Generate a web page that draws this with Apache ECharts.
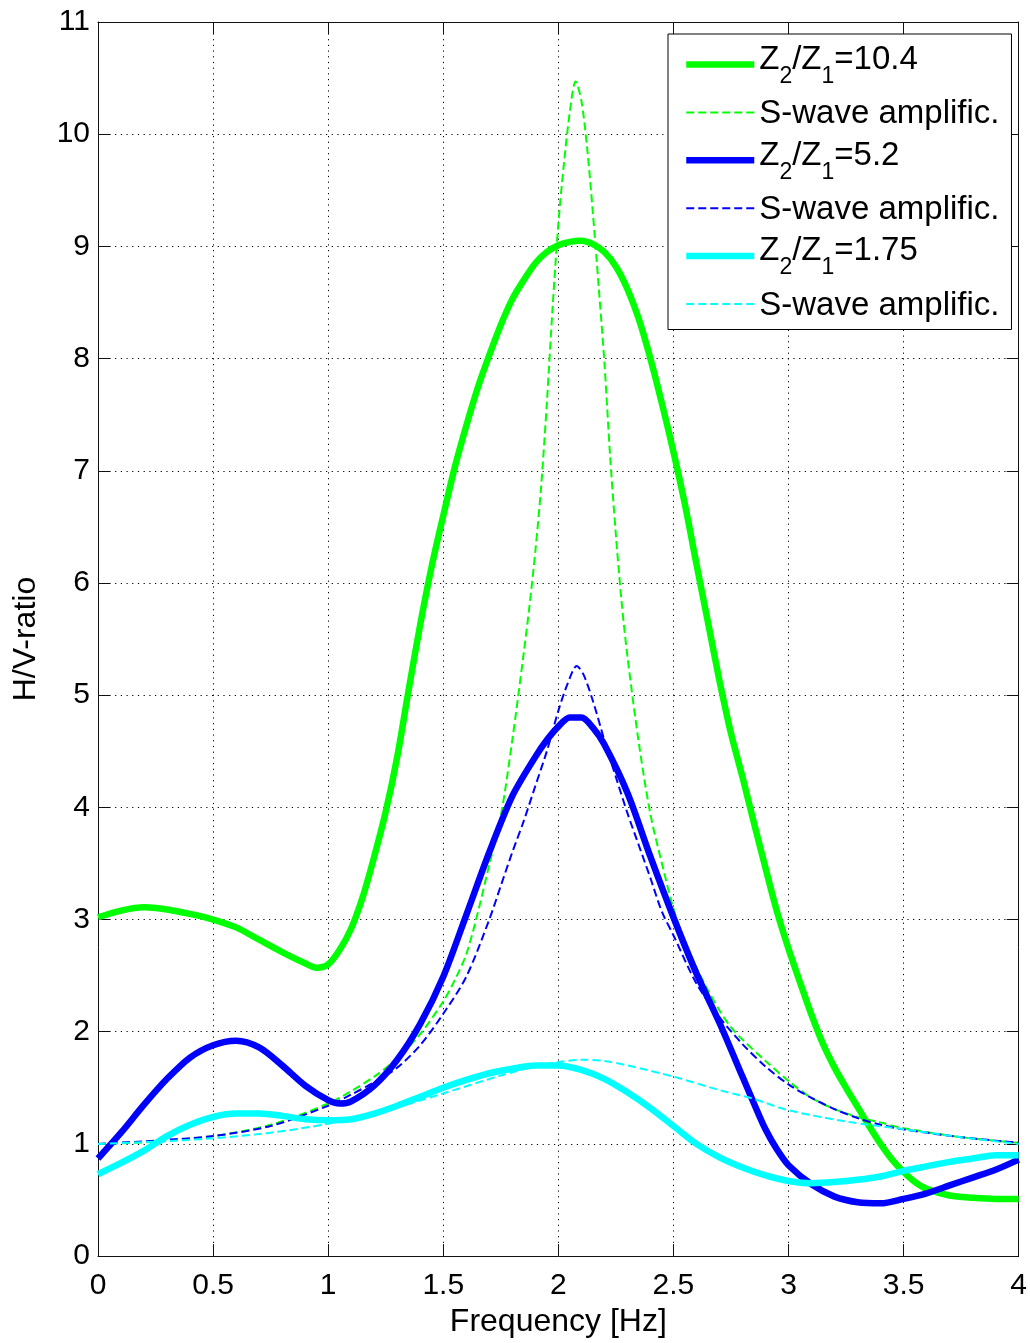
<!DOCTYPE html>
<html>
<head>
<meta charset="utf-8">
<script src="https://cdn.jsdelivr.net/npm/echarts@6/dist/echarts.min.js"></script>
<style>
  html, body { margin: 0; padding: 0; background: #fff; }
  #chart { width: 1030px; height: 1343px; }
</style>
</head>
<body>
<div id="chart"></div>
<script>
// ---- Data (frequency [Hz], H/V ratio) ----
const hv104 = [[0,3.02],[0.1,3.08],[0.2,3.11],[0.3,3.09],[0.4,3.05],[0.5,3.0],[0.6,2.93],[0.7,2.82],[0.8,2.71],[0.9,2.61],[0.95,2.57],[1.0,2.6],[1.05,2.73],[1.1,2.92],[1.15,3.2],[1.2,3.56],[1.25,3.96],[1.3,4.45],[1.35,5.05],[1.4,5.63],[1.45,6.15],[1.5,6.6],[1.55,7.03],[1.6,7.4],[1.65,7.74],[1.7,8.03],[1.75,8.3],[1.8,8.53],[1.85,8.7],[1.9,8.85],[1.95,8.95],[2.0,9.01],[2.05,9.04],[2.1,9.05],[2.15,9.02],[2.2,8.95],[2.25,8.82],[2.3,8.62],[2.35,8.35],[2.4,8.0],[2.45,7.6],[2.5,7.17],[2.55,6.7],[2.6,6.17],[2.65,5.65],[2.7,5.13],[2.75,4.66],[2.8,4.27],[2.85,3.86],[2.9,3.46],[2.95,3.07],[3.0,2.74],[3.05,2.44],[3.1,2.15],[3.15,1.89],[3.2,1.68],[3.25,1.5],[3.3,1.33],[3.35,1.16],[3.4,1.0],[3.45,0.86],[3.5,0.75],[3.55,0.66],[3.6,0.6],[3.7,0.54],[3.8,0.52],[3.9,0.51],[4.0,0.51]];
const sw104 = [[0,1.0],[0.25,1.02],[0.5,1.07],[0.75,1.17],[1.0,1.36],[1.1,1.47],[1.2,1.6],[1.3,1.76],[1.4,1.98],[1.5,2.27],[1.55,2.46],[1.6,2.69],[1.65,3.06],[1.7,3.49],[1.75,3.92],[1.8,4.6],[1.85,5.38],[1.875,5.8],[1.9,6.28],[1.925,6.85],[1.95,7.6],[1.975,8.45],[2.0,9.2],[2.025,9.75],[2.05,10.2],[2.075,10.47],[2.1,10.3],[2.125,9.88],[2.15,9.3],[2.175,8.65],[2.2,7.97],[2.225,7.13],[2.25,6.43],[2.275,5.83],[2.3,5.35],[2.35,4.57],[2.4,3.94],[2.45,3.5],[2.5,3.1],[2.55,2.8],[2.6,2.57],[2.65,2.37],[2.7,2.19],[2.75,2.04],[2.8,1.93],[2.9,1.74],[3.0,1.56],[3.1,1.41],[3.2,1.31],[3.3,1.24],[3.4,1.19],[3.5,1.14],[3.75,1.06],[4.0,1.01]];
const hv52 = [[0,0.87],[0.1,1.1],[0.2,1.35],[0.3,1.58],[0.4,1.77],[0.5,1.88],[0.6,1.92],[0.7,1.86],[0.8,1.7],[0.9,1.52],[1.0,1.39],[1.05,1.36],[1.1,1.38],[1.2,1.52],[1.3,1.75],[1.4,2.07],[1.5,2.49],[1.6,3.04],[1.7,3.6],[1.8,4.1],[1.9,4.45],[1.95,4.6],[2.0,4.72],[2.05,4.8],[2.1,4.8],[2.15,4.71],[2.2,4.56],[2.3,4.13],[2.4,3.56],[2.5,3.02],[2.6,2.52],[2.7,2.08],[2.8,1.6],[2.85,1.36],[2.9,1.13],[2.95,0.95],[3.0,0.81],[3.1,0.64],[3.2,0.53],[3.3,0.48],[3.4,0.47],[3.5,0.51],[3.6,0.56],[3.7,0.63],[3.8,0.7],[3.9,0.77],[4.0,0.86]];
const sw52 = [[0,1.0],[0.25,1.03],[0.5,1.07],[0.75,1.16],[1.0,1.34],[1.1,1.44],[1.2,1.55],[1.3,1.68],[1.4,1.88],[1.5,2.16],[1.6,2.49],[1.7,3.0],[1.75,3.3],[1.8,3.6],[1.85,3.88],[1.9,4.19],[1.95,4.5],[2.0,4.86],[2.04,5.1],[2.08,5.26],[2.11,5.18],[2.15,4.95],[2.2,4.6],[2.25,4.27],[2.3,3.95],[2.35,3.66],[2.4,3.37],[2.45,3.07],[2.5,2.86],[2.6,2.43],[2.7,2.13],[2.8,1.89],[2.9,1.69],[3.0,1.53],[3.1,1.41],[3.2,1.31],[3.3,1.23],[3.4,1.17],[3.5,1.13],[3.75,1.06],[4.0,1.01]];
const hv175 = [[0,0.73],[0.1,0.83],[0.2,0.94],[0.3,1.07],[0.4,1.17],[0.5,1.24],[0.6,1.27],[0.7,1.27],[0.8,1.25],[0.9,1.22],[1.0,1.21],[1.1,1.22],[1.2,1.27],[1.3,1.34],[1.4,1.42],[1.5,1.5],[1.6,1.57],[1.7,1.63],[1.8,1.67],[1.9,1.7],[2.0,1.7],[2.1,1.66],[2.2,1.58],[2.3,1.46],[2.4,1.32],[2.5,1.16],[2.6,1.0],[2.7,0.88],[2.8,0.79],[2.9,0.72],[3.0,0.67],[3.1,0.65],[3.2,0.66],[3.3,0.68],[3.4,0.71],[3.5,0.76],[3.6,0.8],[3.7,0.84],[3.8,0.87],[3.9,0.9],[4.0,0.9]];
const sw175 = [[0,1.0],[0.25,1.02],[0.5,1.05],[0.75,1.1],[1.0,1.18],[1.25,1.3],[1.5,1.45],[1.75,1.61],[1.9,1.69],[2.0,1.73],[2.1,1.75],[2.2,1.74],[2.3,1.7],[2.5,1.6],[2.7,1.48],[2.85,1.4],[3.0,1.3],[3.25,1.2],[3.5,1.13],[3.75,1.06],[4.0,1.0]];

const seriesNames = ['Z2/Z1=10.4', 'S-wave amplific. (10.4)', 'Z2/Z1=5.2', 'S-wave amplific. (5.2)', 'Z2/Z1=1.75', 'S-wave amplific. (1.75)'];
const seriesData = [hv104, sw104, hv52, sw52, hv175, sw175];
const seriesColors = ['#00ff00', '#00ff00', '#0000ff', '#0000ff', '#00ffff', '#00ffff'];
const seriesDashed = [false, true, false, true, false, true];

const xAxisName = 'Frequency [Hz]';
const yAxisName = 'H/V-ratio';

const FONT = 'Liberation Sans, Arial, Helvetica, sans-serif';

const chart = echarts.init(document.getElementById('chart'), null, { renderer: 'canvas' });

const series = seriesData.map((d, i) => ({
  name: seriesNames[i],
  type: 'line',
  data: d,
  xAxisIndex: 0,
  yAxisIndex: 0,
  symbol: 'none',
  showSymbol: false,
  smooth: 0.3,
  clip: true,
  lineStyle: seriesDashed[i]
    ? { color: seriesColors[i], width: 2, type: [8, 4] }
    : { color: seriesColors[i], width: 6.5, type: 'solid' },
  itemStyle: { color: seriesColors[i] },
  emphasis: { disabled: true },
  z: 2 + i
}));

const axisLineStyle = { color: '#111', width: 1 };
const gridLine = { show: true, lineStyle: { color: '#000', width: 1, type: [1.2, 4.5] } };

chart.setOption({
  animation: false,
  backgroundColor: '#fff',
  grid: { left: 98, right: 11, top: 22, bottom: 84, containLabel: false },
  xAxis: [
    {
      type: 'value', min: 0, max: 4, interval: 0.5, position: 'bottom',
      name: xAxisName, nameLocation: 'middle', nameGap: 46,
      nameTextStyle: { fontFamily: FONT, fontSize: 32, color: '#000' },
      axisLine: { show: true, onZero: false, lineStyle: axisLineStyle },
      axisTick: { show: true, inside: true, length: 12, lineStyle: axisLineStyle },
      axisLabel: { fontFamily: FONT, fontSize: 30, color: '#000', margin: 15 },
      splitLine: gridLine
    },
    {
      type: 'value', min: 0, max: 4, interval: 0.5, position: 'top',
      axisLine: { show: true, onZero: false, lineStyle: axisLineStyle },
      axisTick: { show: true, inside: true, length: 12, lineStyle: axisLineStyle },
      axisLabel: { show: false },
      splitLine: { show: false }
    }
  ],
  yAxis: [
    {
      type: 'value', min: 0, max: 11, interval: 1, position: 'left',
      name: yAxisName, nameLocation: 'middle', nameGap: 56, nameRotate: 90,
      nameTextStyle: { fontFamily: FONT, fontSize: 32, color: '#000' },
      axisLine: { show: true, onZero: false, lineStyle: axisLineStyle },
      axisTick: { show: true, inside: true, length: 12, lineStyle: axisLineStyle },
      axisLabel: { fontFamily: FONT, fontSize: 30, color: '#000', margin: 8 },
      splitLine: gridLine
    },
    {
      type: 'value', min: 0, max: 11, interval: 1, position: 'right',
      axisLine: { show: true, onZero: false, lineStyle: axisLineStyle },
      axisTick: { show: true, inside: true, length: 12, lineStyle: axisLineStyle },
      axisLabel: { show: false },
      splitLine: { show: false }
    }
  ],
  legend: {
    show: true,
    orient: 'vertical',
    left: 668,
    top: 34,
    padding: [7, 12, 2, 15],
    itemWidth: 68,
    itemHeight: 20,
    itemGap: 0.9,
    selectedMode: false,
    backgroundColor: '#fff',
    borderColor: '#000',
    borderWidth: 1,
    data: seriesNames,
    itemStyle: { color: 'rgba(0,0,0,0)', borderWidth: 0, opacity: 0 },
    lineStyle: { width: 'inherit', type: 'inherit', opacity: 1 },
    formatter: function (name) {
      if (name.indexOf('S-wave') === 0) return '{w|S-wave amplific.}';
      const v = name.split('=')[1];
      return '{m|Z}{s|2}{m|/Z}{s|1}{m|=' + v + '}';
    },
    textStyle: {
      fontFamily: FONT, fontSize: 33, color: '#000', lineHeight: 47,
      rich: {
        w: { fontFamily: FONT, fontSize: 33, lineHeight: 47, color: '#000', verticalAlign: 'top', padding: [9, 0, 5, 0] },
        m: { fontFamily: FONT, fontSize: 33, lineHeight: 47, color: '#000', verticalAlign: 'top', padding: [2.2, 0, 11.8, 0] },
        s: { fontFamily: FONT, fontSize: 23, lineHeight: 47, color: '#000', verticalAlign: 'top', padding: [24, 0, 0, 0] }
      }
    }
  },
  series: series
});
</script>
</body>
</html>
